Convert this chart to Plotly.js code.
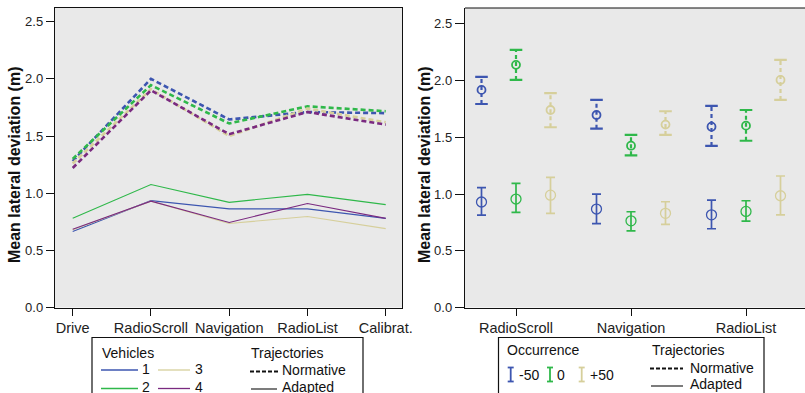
<!DOCTYPE html>
<html><head><meta charset="utf-8">
<script src="https://cdn.plot.ly/plotly-3.0.1.min.js"></script>
<style>html,body{margin:0;padding:0;overflow:hidden;background:#fff}</style>
</head><body><div id="chart" style="width:805px;height:393px"></div>
<script>
// ---------- data: left panel ----------
const tasks = ['Drive','RadioScroll','Navigation','RadioList','Calibrat.'];
const vehicles = ['1','2','3','4'];
const normV1 = [1.28, 2.00, 1.645, 1.71, 1.70];
const normV2 = [1.30, 1.945, 1.61, 1.76, 1.717];
const normV3 = [1.26, 1.91, 1.50, 1.74, 1.62];
const normV4 = [1.22, 1.90, 1.516, 1.71, 1.60];
const adapV1 = [0.665, 0.935, 0.863, 0.863, 0.78];
const adapV2 = [0.78, 1.076, 0.92, 0.99, 0.90];
const adapV3 = [0.68, 0.93, 0.735, 0.796, 0.69];
const adapV4 = [0.685, 0.93, 0.744, 0.91, 0.78];

// ---------- data: right panel ----------
const tasks2 = ['RadioScroll','Navigation','RadioList'];
const occurrences = ['-50','0','+50'];
const adapMeanM50 = [0.93, 0.868, 0.817];
const adapHiM50   = [1.056, 1.00, 0.947];
const adapLoM50   = [0.815, 0.74, 0.694];
const adapMean0   = [0.956, 0.764, 0.847];
const adapHi0     = [1.094, 0.844, 0.941];
const adapLo0     = [0.838, 0.676, 0.762];
const adapMeanP50 = [0.99, 0.83, 0.985];
const adapHiP50   = [1.147, 0.932, 1.159];
const adapLoP50   = [0.83, 0.733, 0.817];
const normMeanM50 = [1.918, 1.697, 1.594];
const normHiM50   = [2.033, 1.83, 1.777];
const normLoM50   = [1.794, 1.576, 1.424];
const normMean0   = [2.139, 1.426, 1.603];
const normHi0     = [2.271, 1.521, 1.741];
const normLo0     = [2.006, 1.341, 1.47];
const normMeanP50 = [1.741, 1.612, 2.006];
const normHiP50   = [1.889, 1.73, 2.183];
const normLoP50   = [1.589, 1.521, 1.83];

// ---------- styles ----------
const cBlue = '#3d56b0', cGreen = '#2fb84a', cBeige = '#d6cf9b', cPurple = '#7a2a80';
const vColors = [cBlue, cGreen, cBeige, cPurple];
const oColors = [cBlue, cGreen, cBeige];
const W = 805, H = 393;
const px = x => x / W, py = y => 1 - y / H;
const FONT = 'Liberation Sans, Arial, Helvetica, sans-serif';

const traces = [];
const normAll = [normV1, normV2, normV3, normV4];
const adapAll = [adapV1, adapV2, adapV3, adapV4];
normAll.forEach((v, i) => traces.push({
  type:'scatter', mode:'lines', x:tasks, y:v, xaxis:'x', yaxis:'y',
  name:'Vehicle '+vehicles[i]+' Normative',
  line:{color:vColors[i], width:2.6, dash:'5px,3px'}, hoverinfo:'y', showlegend:false
}));
adapAll.forEach((v, i) => traces.push({
  type:'scatter', mode:'lines', x:tasks, y:v, xaxis:'x', yaxis:'y',
  name:'Vehicle '+vehicles[i]+' Adapted',
  line:{color:vColors[i], width:1.1}, hoverinfo:'y', showlegend:false
}));

// right panel
const offsets = [-0.3, 0, 0.3];
const adapM = [adapMeanM50, adapMean0, adapMeanP50];
const adapH = [adapHiM50, adapHi0, adapHiP50];
const adapL = [adapLoM50, adapLo0, adapLoP50];
const normM = [normMeanM50, normMean0, normMeanP50];
const normH = [normHiM50, normHi0, normHiP50];
const normL = [normLoM50, normLo0, normLoP50];

occurrences.forEach((o, k) => {
  const xs = tasks2.map((t, j) => j + offsets[k]);
  const c = oColors[k];
  // adapted: circles with solid error bars
  traces.push({
    type:'scatter', mode:'markers', x:xs, y:adapM[k], xaxis:'x2', yaxis:'y2',
    name:'Occurrence '+o+' Adapted', showlegend:false,
    marker:{symbol:'circle-open', size:10, color:c, line:{color:c, width:1.3}},
    error_y:{type:'data', symmetric:false,
      array:adapM[k].map((m, j) => adapH[k][j] - m),
      arrayminus:adapM[k].map((m, j) => m - adapL[k][j]),
      color:c, thickness:1.7, width:4.5}
  });
  // normative: dashed error bars
  const bx = [], by = [], cx = [], cy = [];
  xs.forEach((x, j) => {
    bx.push(x, x, null); by.push(normL[k][j], normH[k][j], null);
    cx.push(x, x); cy.push(normL[k][j], normH[k][j]);
  });
  traces.push({
    type:'scatter', mode:'lines', x:bx, y:by, xaxis:'x2', yaxis:'y2',
    name:'Occurrence '+o+' Normative CI', showlegend:false, connectgaps:false,
    line:{color:c, width:2.2, dash:'4px,3px'}, hoverinfo:'skip'
  });
  traces.push({
    type:'scatter', mode:'markers', x:cx, y:cy, xaxis:'x2', yaxis:'y2',
    name:'Occurrence '+o+' Normative caps', showlegend:false,
    marker:{symbol:'line-ew', size:9, color:c, line:{color:c, width:2.2}}, hoverinfo:'skip'
  });
  traces.push({
    type:'scatter', mode:'markers', x:xs, y:normM[k], xaxis:'x2', yaxis:'y2',
    name:'Occurrence '+o+' Normative', showlegend:false,
    marker:{symbol:'circle-open', size:8, color:c, line:{color:c, width:1.8}}
  });
});

const yDom = [(H - 307.5) / H, (H - 8) / H];
const axisFont = {family:FONT, size:13, color:'#222'};
const yTitleText = '<b>Mean lateral deviation (m)</b>';

// ---------- legend decorations (shapes & annotations) ----------
const shapes = [];
const ann = [];
const hline = (x0, x1, y, color, width, dash) => shapes.push({type:'line', xref:'paper', yref:'paper',
  x0:px(x0), x1:px(x1), y0:py(y), y1:py(y), line:{color, width, dash:dash||'solid'}});
const vline = (x, y0, y1, color, width) => shapes.push({type:'line', xref:'paper', yref:'paper',
  x0:px(x), x1:px(x), y0:py(y0), y1:py(y1), line:{color, width}});
const txt = (x, y, t) => ann.push({xref:'paper', yref:'paper', x:px(x), y:py(y), text:t,
  showarrow:false, xanchor:'left', yanchor:'middle', font:{family:FONT, size:14, color:'#111'}});

// y axis titles (rotated)
[15, 425].forEach(x => ann.push({xref:'paper', yref:'paper', x:px(x), y:py(165), text:yTitleText,
  textangle:-90, showarrow:false, xanchor:'center', yanchor:'middle',
  font:{family:FONT, size:16, color:'#111'}}));

// right panel top border
hline(465, 806, 8, '#111', 1.2);

// left legend box
shapes.push({type:'rect', xref:'paper', yref:'paper', x0:px(92), x1:px(363), y0:py(337.5), y1:py(400),
  line:{color:'#111', width:1.2}, fillcolor:'rgba(0,0,0,0)'});
txt(100, 352.5, 'Vehicles');
hline(101, 138, 370, vColors[0], 1.3); txt(140, 368.5, vehicles[0]);
hline(101, 138, 388.5, vColors[1], 1.3); txt(140, 386.5, vehicles[1]);
hline(158, 190, 370, vColors[2], 1.3); txt(193, 368.5, vehicles[2]);
hline(158, 190, 388.5, vColors[3], 1.3); txt(193, 386.5, vehicles[3]);
txt(249, 352.5, 'Trajectories');
hline(250, 278, 371.5, '#111', 2, '4px,2px'); txt(280, 370, 'Normative');
hline(251, 277, 389, '#111', 1.1); txt(280, 387, 'Adapted');

// right legend box
shapes.push({type:'rect', xref:'paper', yref:'paper', x0:px(498.5), x1:px(764), y0:py(337.5), y1:py(400),
  line:{color:'#111', width:1.2}, fillcolor:'rgba(0,0,0,0)'});
txt(505, 350, 'Occurrence');
const iconX = [510.7, 550, 581.7];
const iconTxt = [517, 555, 588];
occurrences.forEach((o, k) => {
  vline(iconX[k], 367.5, 381.5, oColors[k], 1.8);
  hline(iconX[k] - 3, iconX[k] + 3, 367.5, oColors[k], 1.8);
  hline(iconX[k] - 3, iconX[k] + 3, 381.5, oColors[k], 1.8);
  txt(iconTxt[k], 374.5, o);
});
txt(650, 350, 'Trajectories');
hline(650, 683, 368.5, '#111', 2, '4px,2px'); txt(688, 367.5, 'Normative');
hline(651, 683, 386, '#111', 1.1); txt(688, 384, 'Adapted');

const layout = {
  width:W, height:H, margin:{l:0, r:0, t:0, b:0},
  paper_bgcolor:'#ffffff', plot_bgcolor:'#e9e9e9',
  font:{family:FONT, color:'#222'},
  showlegend:false,
  xaxis:{domain:[px(55), px(402)], type:'category', range:[-0.226, 4.208],
    showline:true, mirror:true, linecolor:'#111', linewidth:1.2,
    ticks:'outside', ticklen:7, tickcolor:'#111', showgrid:false, zeroline:false,
    tickfont:{family:FONT, size:14.5, color:'#222'}, fixedrange:true},
  yaxis:{domain:yDom, range:[0, 2.62], tickvals:[0,0.5,1,1.5,2,2.5], tickformat:'.1f',
    showline:true, mirror:true, linecolor:'#111', linewidth:1.2,
    ticks:'outside', ticklen:8, tickcolor:'#111', showgrid:false, zeroline:false,
    tickfont:axisFont},
  xaxis2:{domain:[px(465), 1], anchor:'y2', range:[-0.4435, 2.513],
    tickvals:[0,1,2], ticktext:tasks2,
    showline:true, linecolor:'#111', linewidth:1.2,
    ticks:'outside', ticklen:7, tickcolor:'#111', showgrid:false, zeroline:false,
    tickfont:{family:FONT, size:14.5, color:'#222'}},
  yaxis2:{domain:yDom, anchor:'x2', range:[0, 2.64], tickvals:[0,0.5,1,1.5,2,2.5], tickformat:'.1f',
    showline:true, linecolor:'#111', linewidth:1.2,
    ticks:'outside', ticklen:9, tickcolor:'#111', showgrid:false, zeroline:false,
    tickfont:axisFont},
  shapes:shapes, annotations:ann
};
Plotly.newPlot('chart', traces, layout, {displayModeBar:false, staticPlot:true});
</script></body></html>
